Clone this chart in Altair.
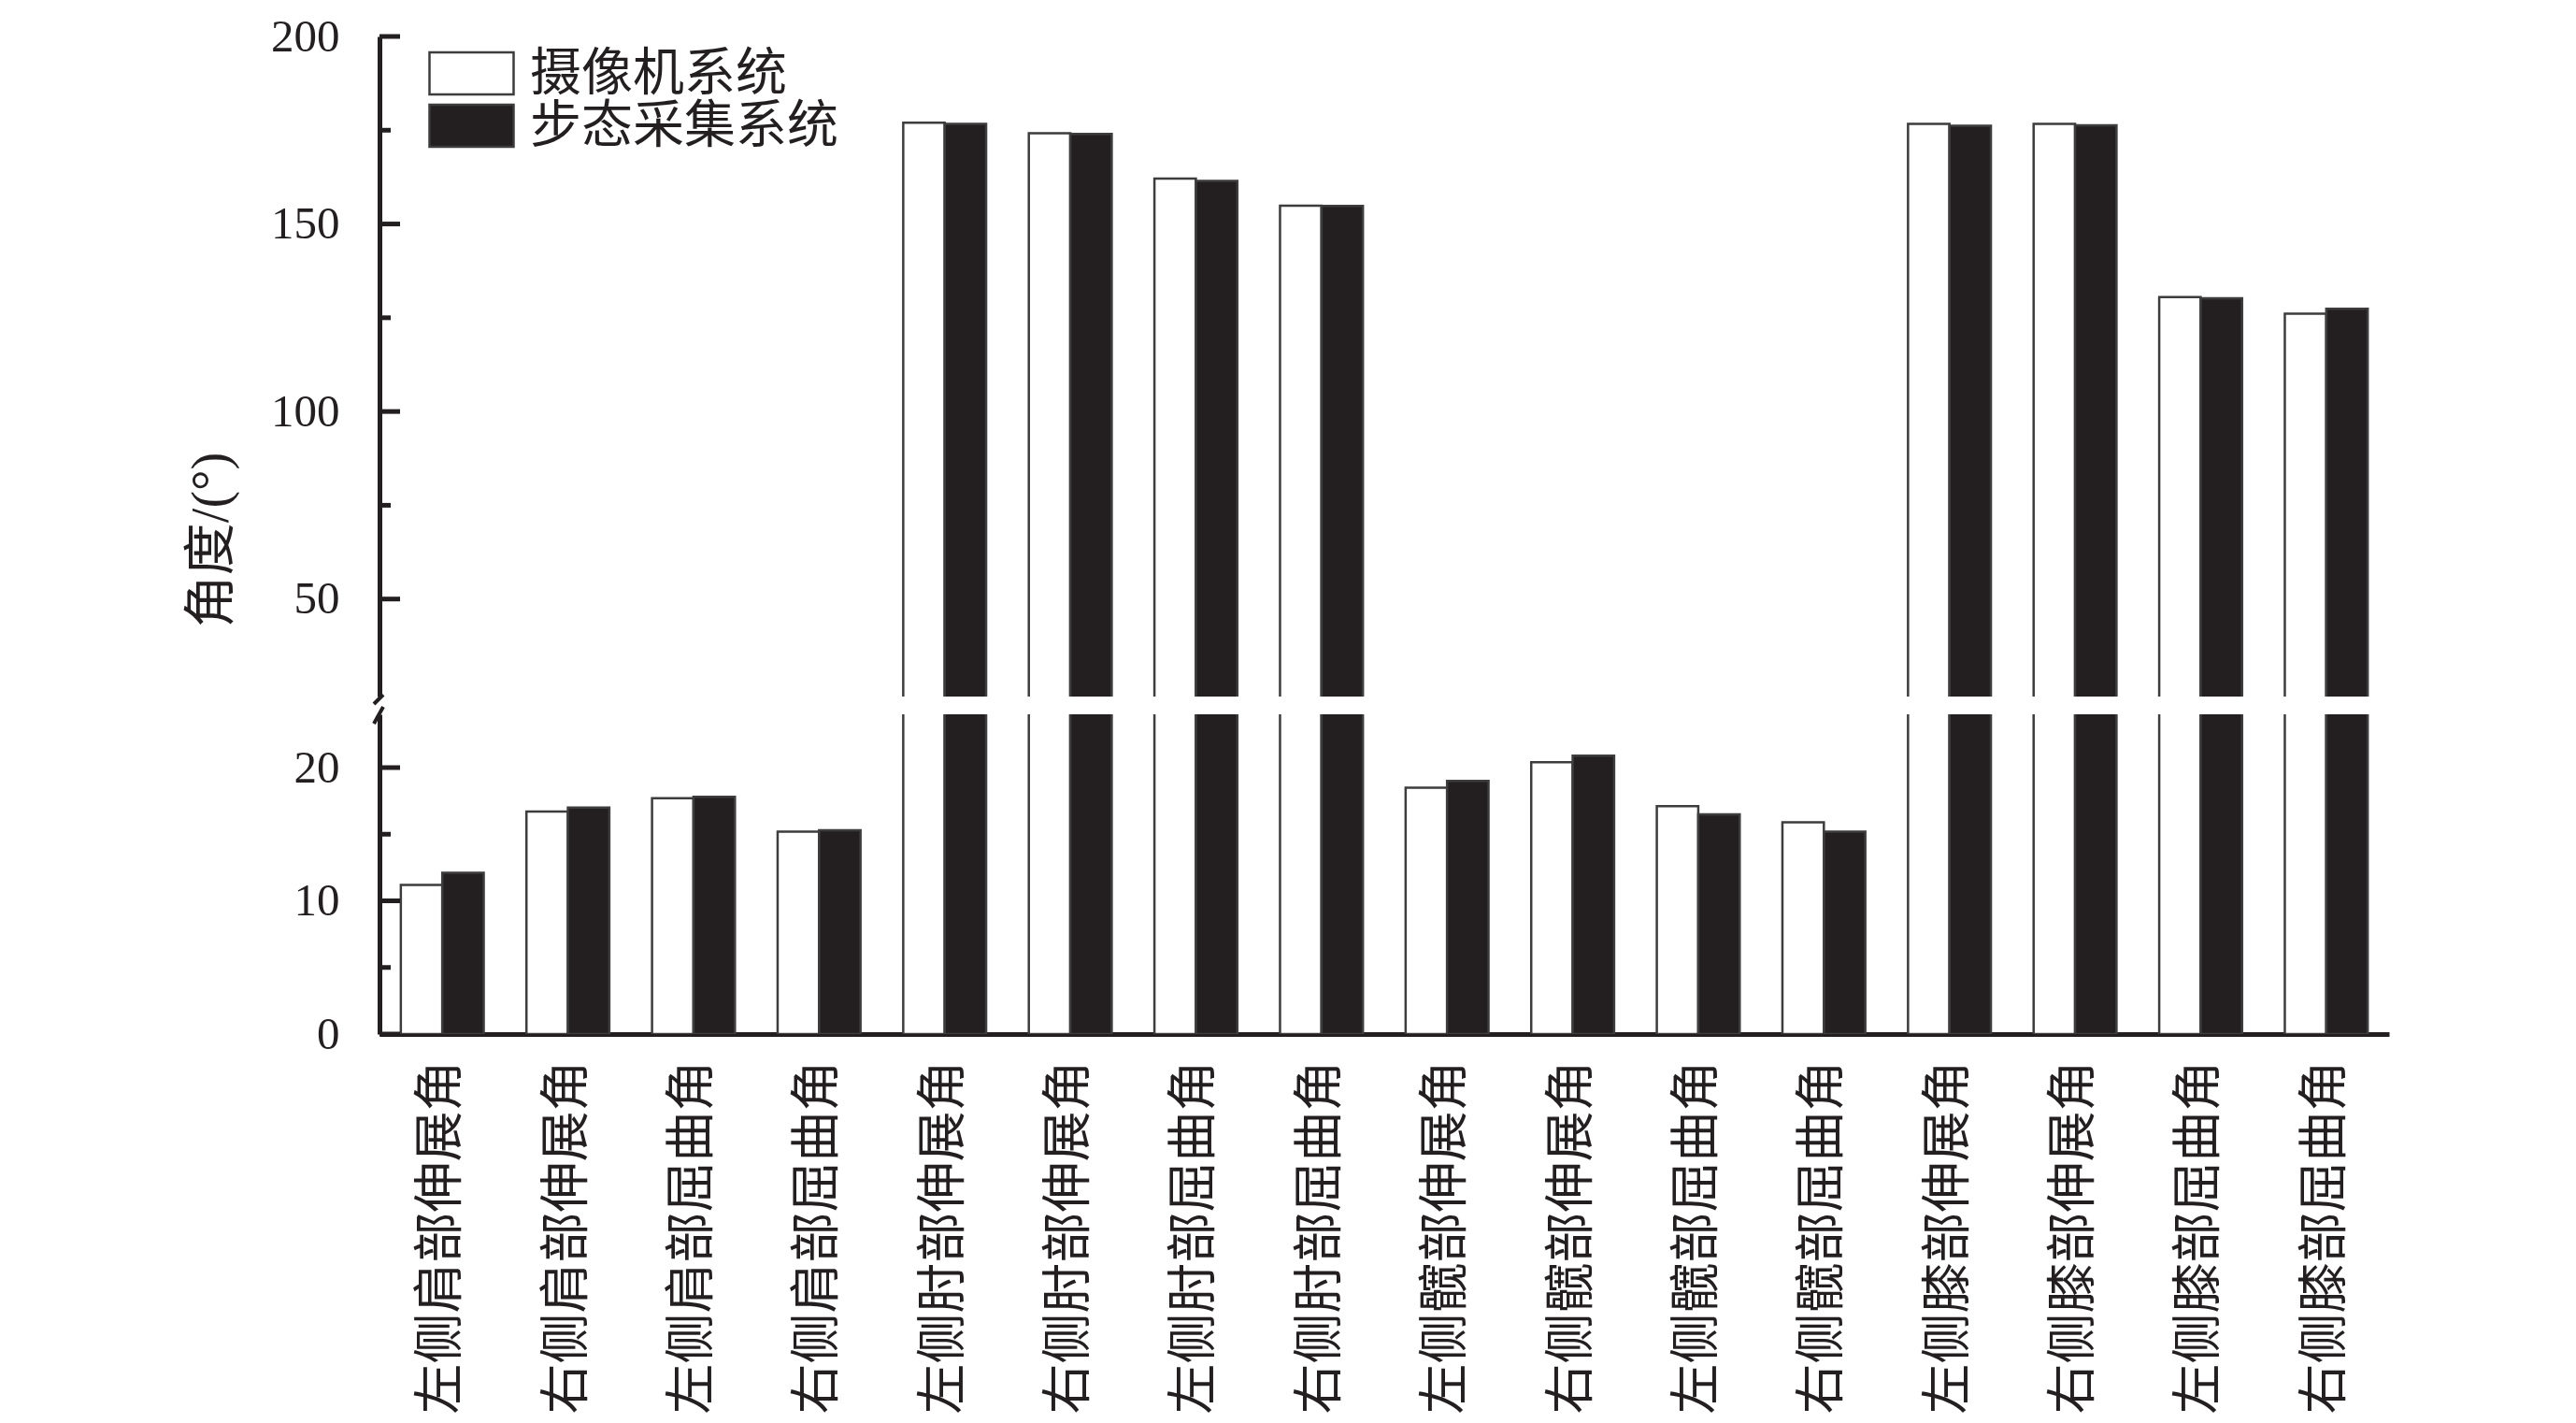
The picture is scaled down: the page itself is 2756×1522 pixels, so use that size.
import altair as alt
import pandas as pd

categories = ["左侧肩部伸展角", "右侧肩部伸展角", "左侧肩部屈曲角", "右侧肩部屈曲角",
              "左侧肘部伸展角", "右侧肘部伸展角", "左侧肘部屈曲角", "右侧肘部屈曲角",
              "左侧髋部伸展角", "右侧髋部伸展角", "左侧髋部屈曲角", "右侧髋部屈曲角",
              "左侧膝部伸展角", "右侧膝部伸展角", "左侧膝部屈曲角", "右侧膝部屈曲角"]
camera = [11.2, 16.7, 17.7, 15.2, 177.0, 174.2, 162.1, 154.9,
          18.5, 20.4, 17.1, 15.9, 176.7, 176.7, 130.5, 126.1]
gait = [12.1, 17.0, 17.8, 15.3, 176.7, 174.0, 161.5, 154.8,
        19.0, 20.9, 16.5, 15.2, 176.2, 176.3, 130.2, 127.4]
series = ["摄像机系统", "步态采集系统"]

upper_major = [50, 100, 150, 200]
upper_minor = [75, 125, 175]
lower_major = [0, 10, 20]
lower_minor = [5, 15]

rows = []
for c, a, b in zip(categories, camera, gait):
    rows.append({"cat": c, "series": series[0], "value": a})
    rows.append({"cat": c, "series": series[1], "value": b})
df = pd.DataFrame(rows)

FONT = "Liberation Serif, Noto Sans CJK SC"
INK = "#231f20"
EDGE = "#3d3d3d"
W = 2150
H_UP = 706
H_LO = 342
BREAK = 24
UP_DOMAIN = [BREAK, 200]
LO_DOMAIN = [0, BREAK]


def panel(domain, height, upper):
    yscale = alt.Scale(domain=domain, zero=False, nice=False)
    if upper:
        yaxis = alt.Axis(values=upper_major, ticks=False, grid=False, domainColor=INK,
                         domainWidth=5, labelFont=FONT, labelFontSize=49, labelColor=INK,
                         labelPadding=43, title="角度/(°)", titleFont=FONT, titleFontSize=56,
                         titleFontWeight="normal", titleColor=INK, titleAngle=270,
                         titleX=-180, titleY=538, titleAlign="center", titleBaseline="middle")
        xaxis = None
        legend = alt.Legend(title=None, orient="none", legendX=71, legendY=12,
                            symbolType="M-2,-1L2,-1L2,1L-2,1Z", symbolSize=2025,
                            symbolStrokeColor=EDGE, symbolStrokeWidth=2.5, symbolOpacity=1,
                            labelFont=FONT, labelFontSize=55, labelColor=INK, labelLimit=0,
                            labelOffset=35, rowPadding=-11, padding=0)
        major, minor = upper_major, upper_minor
    else:
        yaxis = alt.Axis(values=lower_major, ticks=False, grid=False, domainColor=INK,
                         domainWidth=5, labelFont=FONT, labelFontSize=49, labelColor=INK,
                         labelPadding=43, title=None)
        xaxis = alt.Axis(labelAngle=270, labelAlign="right", labelBaseline="middle",
                         labelFont=FONT, labelFontSize=54, labelColor=INK, labelPadding=28,
                         labelLimit=0, ticks=False, domainColor=INK, domainWidth=5, title=None)
        legend = None
        major, minor = lower_major, lower_minor

    bars = alt.Chart(df).mark_bar(clip=True, stroke=EDGE, strokeWidth=2.5).encode(
        x=alt.X("cat:N", sort=categories,
                scale=alt.Scale(paddingInner=0.34, paddingOuter=0.17), axis=xaxis),
        xOffset=alt.XOffset("series:N", sort=series,
                            scale=alt.Scale(paddingInner=0, paddingOuter=0)),
        y=alt.Y("value:Q", scale=yscale, axis=yaxis),
        y2=alt.datum(0),
        fill=alt.Fill("series:N", sort=series,
                      scale=alt.Scale(domain=series, range=["#ffffff", INK]),
                      legend=legend),
    )
    tmaj = alt.Chart(pd.DataFrame({"v": major})).mark_rule(color=INK, strokeWidth=5).encode(
        y=alt.Y("v:Q", scale=yscale, axis=yaxis), x=alt.value(0), x2=alt.value(22))
    tmin = alt.Chart(pd.DataFrame({"v": minor})).mark_rule(color=INK, strokeWidth=5).encode(
        y=alt.Y("v:Q", scale=yscale, axis=yaxis), x=alt.value(0), x2=alt.value(12))
    if upper:
        brk = alt.Chart(pd.DataFrame({"a": [0]})).mark_rule(color=INK, strokeWidth=4).encode(
            x=alt.value(-6), x2=alt.value(4), y=alt.value(height + 8), y2=alt.value(height - 2))
    else:
        brk = alt.Chart(pd.DataFrame({"a": [0]})).mark_rule(color=INK, strokeWidth=4).encode(
            x=alt.value(-6), x2=alt.value(4), y=alt.value(10), y2=alt.value(-8))
    return alt.layer(bars, tmaj, tmin, brk).properties(width=W, height=height)


upper = panel(UP_DOMAIN, H_UP, True)
lower = panel(LO_DOMAIN, H_LO, False)

chart = alt.vconcat(upper, lower, spacing=19, bounds="flush").resolve_legend(
    fill="independent"
).properties(
    padding={"left": 190, "top": 7, "right": 10, "bottom": 0},
    background="white",
).configure_view(stroke=None)

chart.save("out.html", embed_options={"renderer": "svg", "actions": False})
